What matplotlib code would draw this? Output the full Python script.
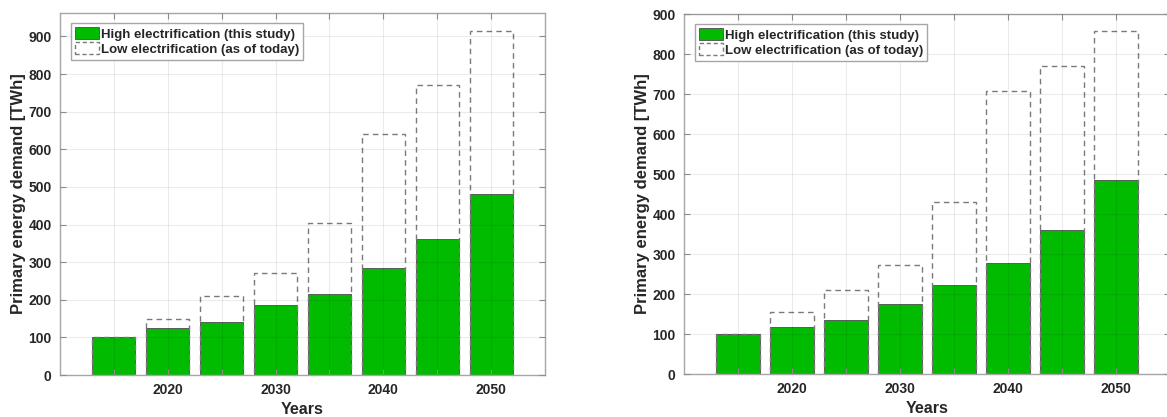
import matplotlib.pyplot as plt
from matplotlib.patches import Patch

# Demanda de energía primaria por año, dos escenarios
years = [2015, 2020, 2025, 2030, 2035, 2040, 2045, 2050]
tick_labels = ['', '2020', '', '2030', '', '2040', '', '2050']

left_high = [100, 125, 142, 187, 215, 285, 361, 482]
left_low = [100, 150, 210, 272, 405, 640, 772, 915]

right_high = [100, 118, 135, 176, 223, 278, 359, 484]
right_low = [100, 154, 209, 272, 430, 708, 771, 859]

label_high = 'High electrification (this study)'
label_low = 'Low electrification (as of today)'

green = '#00bb00'
txt = '#262626'

plt.rcParams['font.family'] = ['Liberation Sans', 'DejaVu Sans']
plt.rcParams['font.weight'] = 'bold'


def bar_panel(ax, high, low, ymax, yticks):
    """dibuja las barras verdes y encima el contorno punteado del otro escenario"""
    ax.bar(years, high, width=4, color=green, edgecolor='#4d4d4d', linewidth=0.6)
    ax.bar(years, low, width=4, facecolor='none', edgecolor='#7a7a7a',
           linewidth=1.0, linestyle=(0, (4, 3)))
    ax.set_xlim(2010, 2055)
    ax.set_ylim(0, ymax)
    ax.set_xticks(years)
    ax.set_xticklabels(tick_labels)
    ax.set_yticks(yticks)
    ax.grid(True, color='#000000', alpha=0.08, linewidth=0.8)
    ax.set_axisbelow(False)
    ax.tick_params(direction='in', top=True, right=True, length=4,
                   color='#8c8c8c', labelsize=10, labelcolor=txt, pad=6)
    for lab in ax.get_xticklabels() + ax.get_yticklabels():
        lab.set_fontweight('bold')
    for s in ax.spines.values():
        s.set_color('#a6a6a6')
        s.set_linewidth(1.0)
    ax.set_xlabel('Years', fontsize=11.5, fontweight='bold', color=txt, labelpad=3)
    ax.set_ylabel('Primary energy demand [TWh]', fontsize=12, fontweight='bold',
                  color=txt, labelpad=2)
    handles = [Patch(facecolor=green, edgecolor='#4d4d4d', linewidth=0.6),
               Patch(facecolor='white', edgecolor='#7a7a7a', linewidth=1.0,
                     linestyle=(0, (3, 2)))]
    leg = ax.legend(handles, [label_high, label_low], loc='upper left',
                    bbox_to_anchor=(0.023, 0.972), borderaxespad=0,
                    fancybox=False, edgecolor='#a6a6a6', framealpha=1,
                    handlelength=1.8, handleheight=1.05, handletextpad=0.15,
                    borderpad=0.3, labelspacing=0.1,
                    prop={'size': 9.5, 'weight': 'bold'})
    leg.get_frame().set_linewidth(1.0)
    for t in leg.get_texts():
        t.set_color(txt)


fig = plt.figure(figsize=(11.67, 4.17), dpi=100)
ax1 = fig.add_axes([0.0514, 0.1007, 0.4156, 0.868])
ax2 = fig.add_axes([0.5861, 0.1031, 0.4165, 0.863])

bar_panel(ax1, left_high, left_low, 962, range(0, 1000, 100))
bar_panel(ax2, right_high, right_low, 900, range(0, 1000, 100))

fig.savefig('out.png', dpi=100)
